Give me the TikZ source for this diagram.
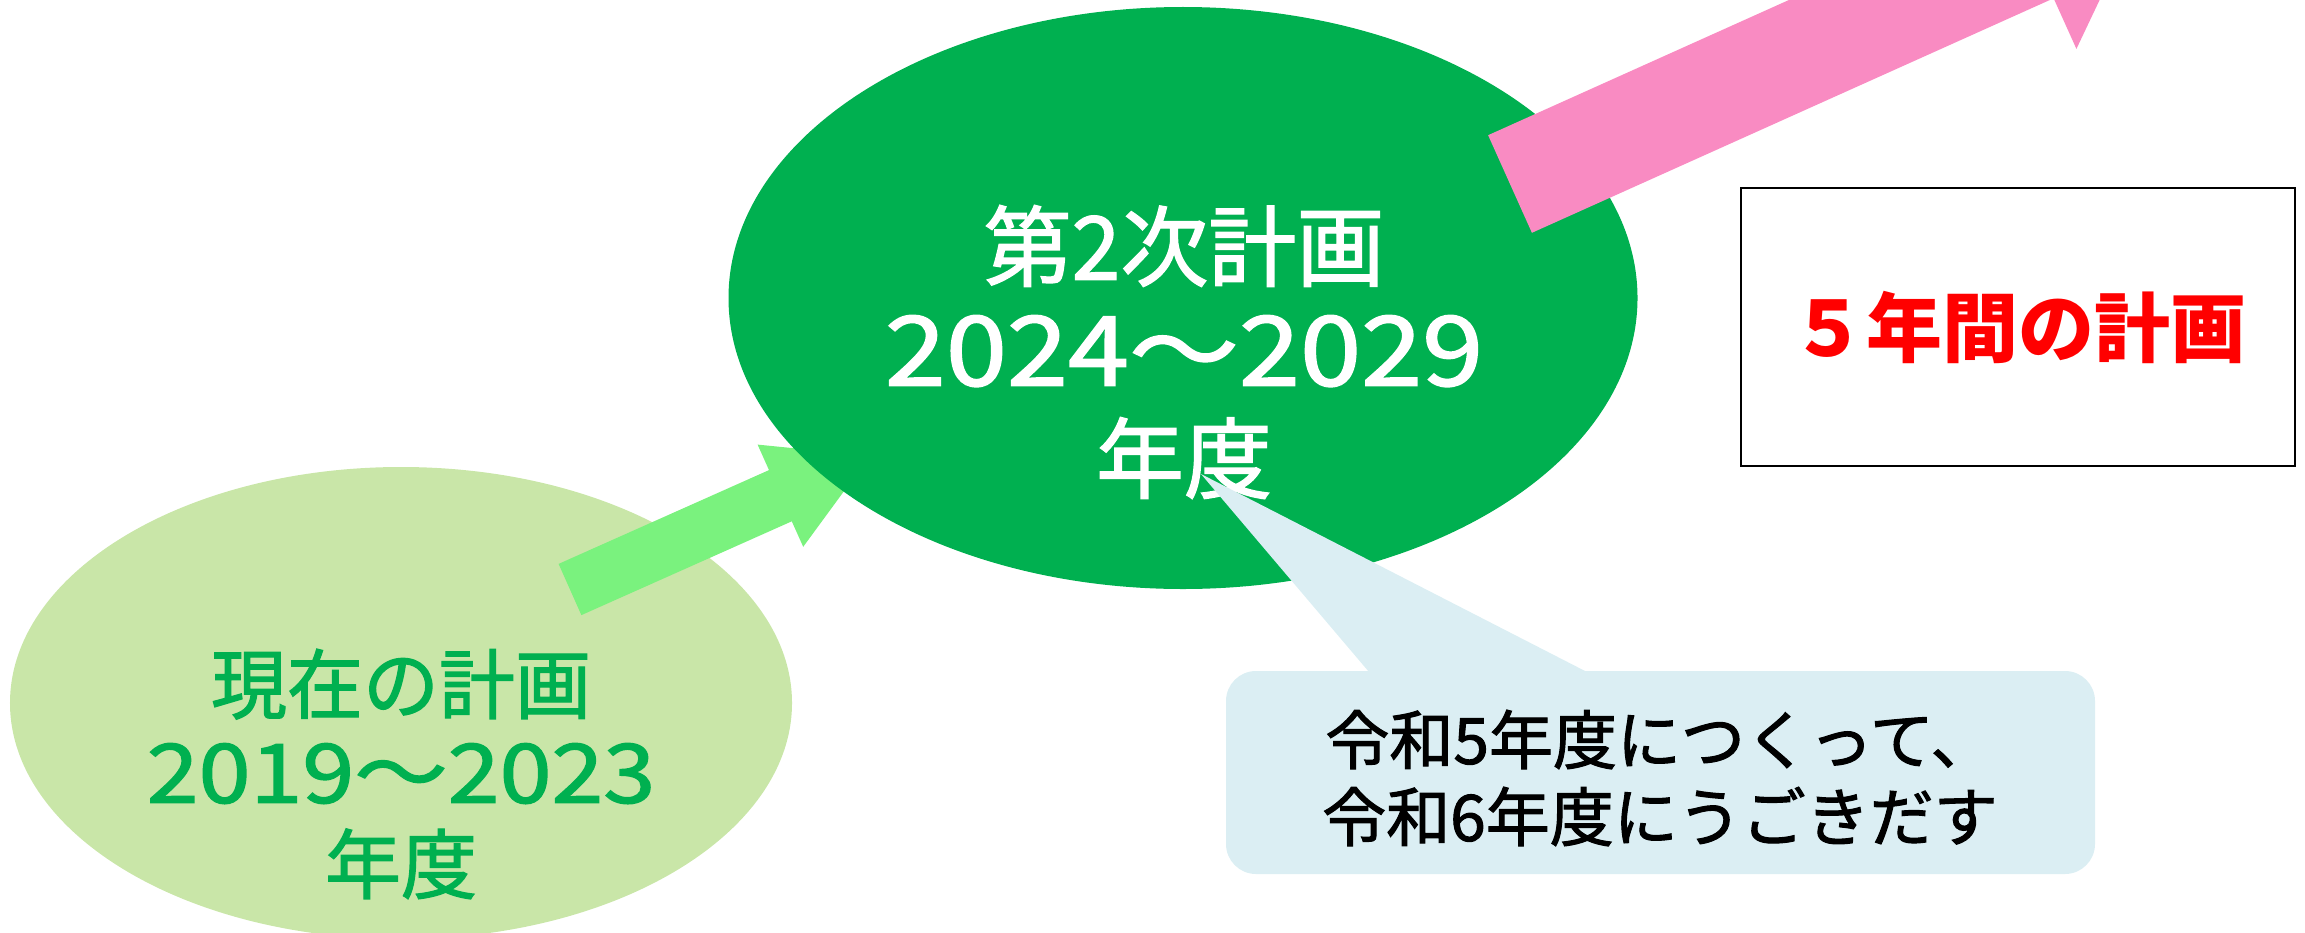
\documentclass[tikz,border=0pt]{standalone}
\usepackage{fontspec}
\setmainfont{Noto Sans CJK JP}
\newfontfamily\jpmed[FakeBold=1.6]{Noto Sans CJK JP}
\usetikzlibrary{shapes.geometric}
\definecolor{dkgreen}{RGB}{0,176,80}
\definecolor{ltgreen}{RGB}{201,230,168}
\definecolor{arrowgreen}{RGB}{122,242,126}
\definecolor{myPink}{RGB}{249,139,194}
\definecolor{calloutblue}{RGB}{219,238,243}
\definecolor{myRed}{RGB}{255,0,0}
\tikzset{
  blob/.style={ellipse, inner sep=0pt},
  label text/.style={align=center, inner sep=0pt},
}
\begin{document}
\begin{tikzpicture}[x=1bp,y=-1bp]
\useasboundingbox (0,0) rectangle (2305,932);
% left (current plan) ellipse
\node[blob, fill=ltgreen, minimum width=782bp, minimum height=472bp] (cur) at (401,703) {};
\node[label text, text=dkgreen, font=\jpmed\fontsize{76bp}{90bp}\selectfont] (curtxt) at (401,774)
  {現在の計画\\\scalebox{1.23}[1.08]{2019～2023}\\年度};
% green block arrow
\fill[arrowgreen] (558.6,563.9) -- (769.0,470.1) -- (757.6,444.6) -- (869.9,455.8)
  -- (803.2,546.8) -- (791.8,521.3) -- (581.4,615.1) -- cycle;
% second plan ellipse
\node[blob, fill=dkgreen, minimum width=909bp, minimum height=582bp] (next) at (1183,298) {};
\node[label text, text=white, font=\jpmed\fontsize{88bp}{106bp}\selectfont] (nexttxt) at (1184,352)
  {第2次計画\\\scalebox{1.25}[1.1]{2024～2029}\\年度};
% callout
\node[rectangle, rounded corners=30bp, fill=calloutblue, minimum width=869bp, minimum height=203bp, inner sep=0pt] (call) at (1660.5,772.5) {};
\coordinate (ptip) at (1201,474);
\fill[calloutblue] (1369,672) -- (ptip) -- (1587,672) -- cycle;
\node[label text, text=black, font=\jpmed\fontsize{64bp}{77bp}\selectfont] (calltxt) at (1660,778)
  {令和5年度につくって、\\令和6年度にうごきだす};
% pink block arrow
\fill[myPink] (1488.1,135.2) -- (2009.8,-99.3) -- (1987.0,-149.9) -- (2148.4,-103.0)
  -- (2076.4,48.9) -- (2053.6,-1.7) -- (1531.9,232.8) -- cycle;
% five-year box
\node[draw=black, line width=2bp, minimum width=554bp, minimum height=278bp, inner sep=0pt] (box) at (2018,327) {};
\node[label text, text=myRed, font=\bfseries\fontsize{76bp}{90bp}\selectfont] (boxtxt) at (box.center) {５年間の計画};
\end{tikzpicture}
\end{document}
